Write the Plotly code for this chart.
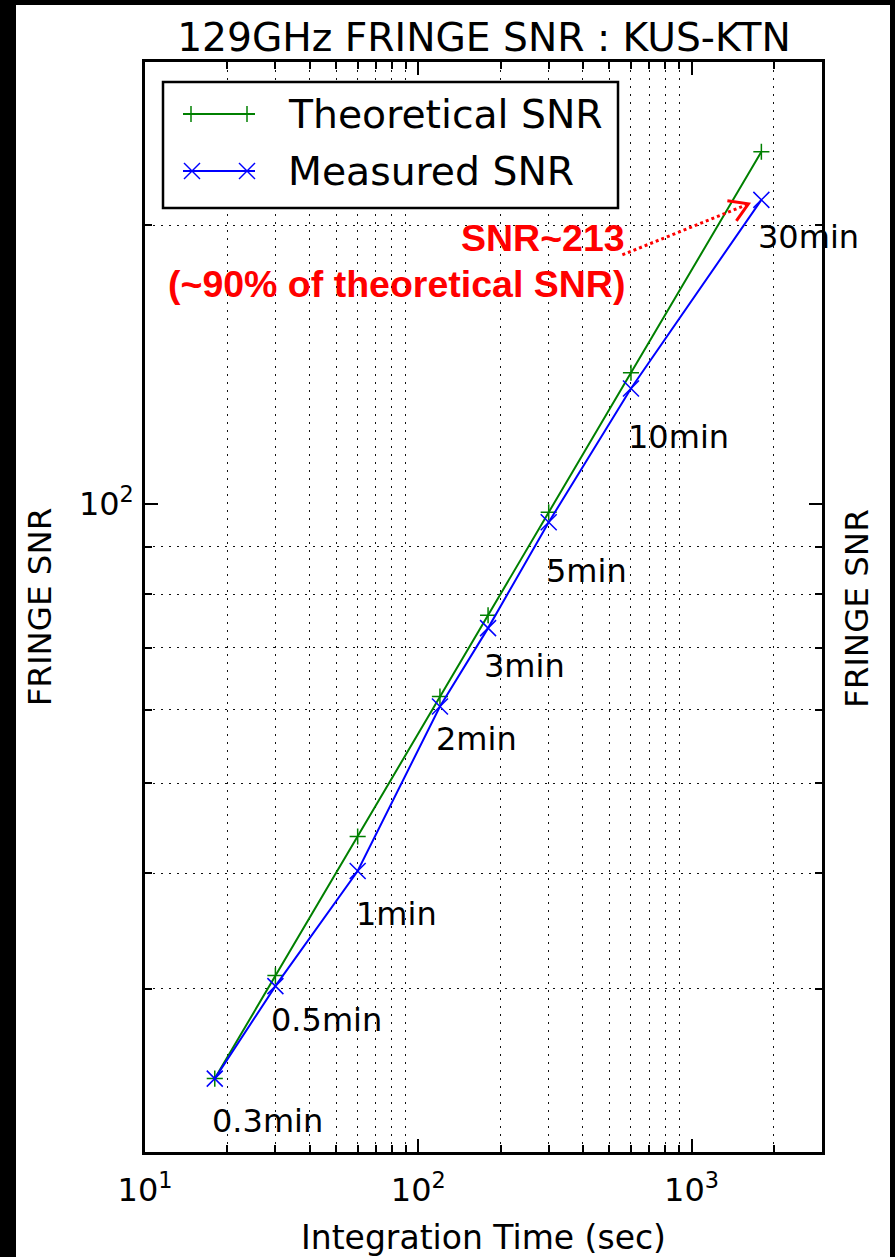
import math
import plotly.graph_objects as go

# Integration times (s), their labels, and SNR values
t_sec = [18, 30, 60, 120, 180, 300, 600, 1800]
t_labels = ["0.3min", "0.5min", "1min", "2min", "3min", "5min", "10min", "30min"]
snr_theoretical = [24.0, 31.0, 43.8, 62.0, 75.9, 98.0, 138.6, 240.0]
snr_measured = [24.0, 30.2, 40.2, 60.5, 73.5, 95.6, 133.3, 213.0]

# Axis ticks
x_major = [10, 100, 1000]
x_major_text = ["10<sup>1</sup>", "10<sup>2</sup>", "10<sup>3</sup>"]
x_minor = [20, 30, 40, 50, 60, 70, 80, 90,
           200, 300, 400, 500, 600, 700, 800, 900, 2000, 3000]
y_major = [100]
y_major_text = ["10<sup>2</sup>"]
y_minor = [20, 30, 40, 50, 60, 70, 80, 90, 200, 300]
x_limits = [10, 3000]
y_limits = [20, 300]

# Pixel nudges (right, down) for the time labels next to each point
label_nudge = [(-5, 42), (-6, 34), (-4, 43), (-6, 33), (-6, 38), (-5, 49), (-5, 48), (-5, 37)]

FIG_W, FIG_H = 895, 1257
L, R, T, B = 145, 822, 62, 1152


def fx(p):
    return (p - L) / (R - L)


def fy(p):
    return (B - p) / (B - T)


GREEN = "#008000"
BLUE = "#0000ff"
RED = "#ff0000"
FONT = "DejaVu Sans"

fig = go.Figure()
fig.add_trace(go.Scatter(
    x=t_sec, y=snr_theoretical, mode="lines+markers", name="Theoretical SNR",
    line=dict(color=GREEN, width=2),
    marker=dict(symbol="cross-thin", size=11.5, line=dict(color=GREEN, width=1.5)),
))
fig.add_trace(go.Scatter(
    x=t_sec, y=snr_measured, mode="lines+markers", name="Measured SNR",
    line=dict(color=BLUE, width=2),
    marker=dict(symbol="x-thin", size=16, line=dict(color=BLUE, width=1.5)),
))

grid_dash = "2px,6px"
axis_common = dict(
    type="log", showline=True, linecolor="black", linewidth=2.5, mirror="allticks",
    ticks="inside", ticklen=13, tickwidth=2, tickcolor="black",
    showgrid=False, zeroline=False, tickmode="array", automargin=False,
    tickfont=dict(family=FONT, size=32, color="black"),
)
minor_common = dict(tickmode="array", ticks="inside", ticklen=7, tickwidth=1.5,
                    tickcolor="black", showgrid=True, gridcolor="#111",
                    gridwidth=1.4, griddash=grid_dash)

fig.update_xaxes(
    **axis_common,
    range=[math.log10(x_limits[0]), math.log10(x_limits[1])],
    tickvals=x_major, ticktext=x_major_text, ticklabelstandoff=8,
    minor=dict(tickvals=x_minor, **minor_common),
    title=dict(text="Integration Time (sec)", font=dict(family=FONT, size=33, color="black"),
               standoff=19),
)
fig.update_yaxes(
    **axis_common,
    range=[math.log10(y_limits[0]), math.log10(y_limits[1])],
    tickvals=y_major, ticktext=y_major_text, ticklabelstandoff=2,
    minor=dict(tickvals=y_minor, **minor_common),
    title=dict(text="FRINGE SNR", font=dict(family=FONT, size=32.5, color="black"),
               standoff=18),
)

annotations = []
shapes = []

# Time labels beside the measured points
for t, v, lab, (dx, dy) in zip(t_sec, snr_measured, t_labels, label_nudge):
    annotations.append(dict(
        x=math.log10(t), y=math.log10(v), xref="x", yref="y", text=lab,
        showarrow=False, xanchor="left", yanchor="middle", xshift=dx, yshift=-dy,
        font=dict(family=FONT, size=32, color="black"),
    ))

# Right-hand axis title
annotations.append(dict(
    x=fx(857), y=fy(609), xref="paper", yref="paper", text="FRINGE SNR",
    textangle=-90, showarrow=False, xanchor="center", yanchor="middle",
    font=dict(family=FONT, size=32.5, color="black"),
))

# Callout for the 30 min measurement
annotations.append(dict(
    x=fx(627), y=fy(238), xref="paper", yref="paper",
    text="<b>SNR~%d</b>" % round(snr_measured[-1]), showarrow=False,
    xanchor="right", yanchor="middle",
    font=dict(family="Liberation Sans", size=37.5, color=RED),
))
annotations.append(dict(
    x=fx(627), y=fy(284), xref="paper", yref="paper",
    text="<b>(~90% of theoretical SNR)</b>", showarrow=False,
    xanchor="right", yanchor="middle",
    font=dict(family="Liberation Sans", size=37.5, color=RED),
))
shapes.append(dict(
    type="path", xref="x", yref="y", xsizemode="pixel", ysizemode="pixel",
    xanchor=t_sec[-1], yanchor=snr_measured[-1],
    path="M-139,-55 L-15,-5",
    line=dict(color=RED, width=3, dash="dot"), layer="above",
))
shapes.append(dict(
    type="path", xref="x", yref="y", xsizemode="pixel", ysizemode="pixel",
    xanchor=t_sec[-1], yanchor=snr_measured[-1],
    path="M-34,-1 L-13,-4 L-25,-21",
    line=dict(color=RED, width=3), layer="above",
))

# Legend box drawn by hand (line with a marker at each end)
shapes.append(dict(
    type="rect", xref="paper", yref="paper",
    x0=fx(163), x1=fx(618), y0=fy(208), y1=fy(82),
    line=dict(color="black", width=2.5), fillcolor="white", layer="above",
))


def seg(x0, y0, x1, y1, color, width):
    shapes.append(dict(
        type="line", xref="paper", yref="paper",
        x0=fx(x0), y0=fy(y0), x1=fx(x1), y1=fy(y1),
        line=dict(color=color, width=width), layer="above",
    ))


seg(183, 114, 255, 114, GREEN, 2)
for cx in (191, 247):
    seg(cx - 8, 114, cx + 8, 114, GREEN, 1.5)
    seg(cx, 106, cx, 122, GREEN, 1.5)
seg(183, 171, 255, 171, BLUE, 2)
for cx in (192, 247):
    seg(cx - 8, 163, cx + 8, 179, BLUE, 1.5)
    seg(cx - 8, 179, cx + 8, 163, BLUE, 1.5)

for name, yc in (("Theoretical SNR", 115), ("Measured SNR", 172)):
    annotations.append(dict(
        x=fx(286), y=fy(yc), xref="paper", yref="paper", text=name,
        showarrow=False, xanchor="left", yanchor="middle",
        font=dict(family=FONT, size=39.3, color="black"),
    ))

# Dark frame at the left, right and top edges of the canvas
for x0, x1, y0, y1 in ((0, 16, 0, FIG_H), (890, FIG_W, 0, FIG_H), (0, FIG_W, 0, 5)):
    shapes.append(dict(
        type="rect", xref="paper", yref="paper",
        x0=fx(x0), x1=fx(x1), y0=fy(y1), y1=fy(y0),
        line=dict(width=0), fillcolor="black", layer="above",
    ))

fig.update_layout(
    width=FIG_W, height=FIG_H,
    margin=dict(l=L, r=FIG_W - R, t=T, b=FIG_H - B, pad=0, autoexpand=False),
    paper_bgcolor="white", plot_bgcolor="white",
    showlegend=False,
    title=dict(text="129GHz FRINGE SNR : KUS-KTN", x=484 / FIG_W, y=1 - 37 / FIG_H,
               xanchor="center", yanchor="middle", xref="container", yref="container",
               font=dict(family=FONT, size=39.2, color="black")),
    annotations=annotations,
    shapes=shapes,
)

fig.write_html("out.html")
